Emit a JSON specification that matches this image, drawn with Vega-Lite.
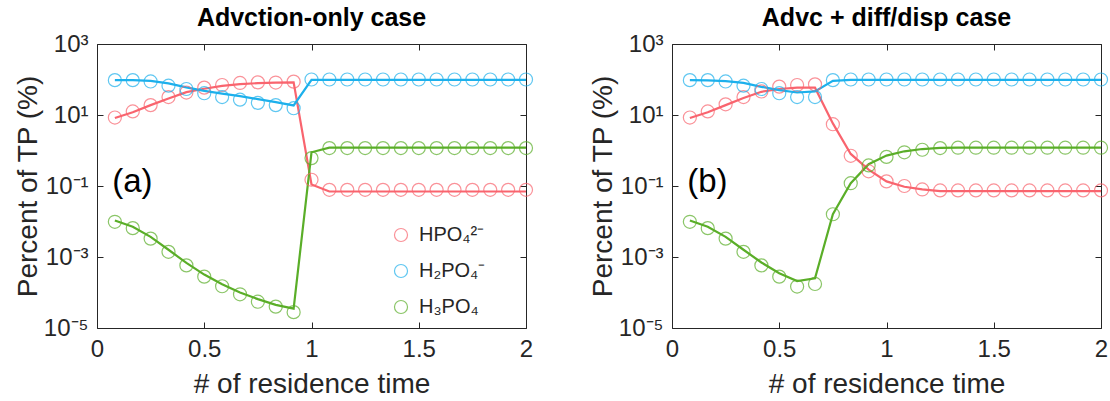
{
  "$schema": "https://vega.github.io/schema/vega-lite/v6.json",
  "background": "white",
  "padding": {"left": 13, "top": 5, "right": 0, "bottom": 3},
  "datasets": {
    "a": [
      {"s":"HPO₄²⁻","x":0.0833,"m":8.2,"o":8.5},
      {"s":"HPO₄²⁻","x":0.1667,"m":12,"o":12.6},
      {"s":"HPO₄²⁻","x":0.25,"m":19,"o":19},
      {"s":"HPO₄²⁻","x":0.3333,"m":29,"o":32},
      {"s":"HPO₄²⁻","x":0.4167,"m":44,"o":43},
      {"s":"HPO₄²⁻","x":0.5,"m":55,"o":59},
      {"s":"HPO₄²⁻","x":0.5833,"m":66,"o":70},
      {"s":"HPO₄²⁻","x":0.6667,"m":74,"o":80},
      {"s":"HPO₄²⁻","x":0.75,"m":79,"o":83},
      {"s":"HPO₄²⁻","x":0.8333,"m":82,"o":82},
      {"s":"HPO₄²⁻","x":0.9167,"m":83,"o":87},
      {"s":"HPO₄²⁻","x":1.0,"m":0.11,"o":0.15},
      {"s":"HPO₄²⁻","x":1.0833,"m":0.07,"o":0.078},
      {"s":"HPO₄²⁻","x":1.1667,"m":0.07,"o":0.078},
      {"s":"HPO₄²⁻","x":1.25,"m":0.07,"o":0.078},
      {"s":"HPO₄²⁻","x":1.3333,"m":0.07,"o":0.078},
      {"s":"HPO₄²⁻","x":1.4167,"m":0.07,"o":0.078},
      {"s":"HPO₄²⁻","x":1.5,"m":0.07,"o":0.078},
      {"s":"HPO₄²⁻","x":1.5833,"m":0.07,"o":0.078},
      {"s":"HPO₄²⁻","x":1.6667,"m":0.07,"o":0.078},
      {"s":"HPO₄²⁻","x":1.75,"m":0.07,"o":0.078},
      {"s":"HPO₄²⁻","x":1.8333,"m":0.07,"o":0.078},
      {"s":"HPO₄²⁻","x":1.9167,"m":0.07,"o":0.078},
      {"s":"HPO₄²⁻","x":2.0,"m":0.07,"o":0.078},
      {"s":"H₂PO₄⁻","x":0.0833,"m":96,"o":96},
      {"s":"H₂PO₄⁻","x":0.1667,"m":96,"o":96},
      {"s":"H₂PO₄⁻","x":0.25,"m":92,"o":88},
      {"s":"H₂PO₄⁻","x":0.3333,"m":78,"o":67},
      {"s":"H₂PO₄⁻","x":0.4167,"m":60,"o":54},
      {"s":"H₂PO₄⁻","x":0.5,"m":48,"o":41},
      {"s":"H₂PO₄⁻","x":0.5833,"m":40,"o":32},
      {"s":"H₂PO₄⁻","x":0.6667,"m":34,"o":27},
      {"s":"H₂PO₄⁻","x":0.75,"m":28,"o":22},
      {"s":"H₂PO₄⁻","x":0.8333,"m":23,"o":19},
      {"s":"H₂PO₄⁻","x":0.9167,"m":18.6,"o":15.5},
      {"s":"H₂PO₄⁻","x":1.0,"m":98,"o":100},
      {"s":"H₂PO₄⁻","x":1.0833,"m":98,"o":100},
      {"s":"H₂PO₄⁻","x":1.1667,"m":98,"o":100},
      {"s":"H₂PO₄⁻","x":1.25,"m":98,"o":100},
      {"s":"H₂PO₄⁻","x":1.3333,"m":98,"o":100},
      {"s":"H₂PO₄⁻","x":1.4167,"m":98,"o":100},
      {"s":"H₂PO₄⁻","x":1.5,"m":98,"o":100},
      {"s":"H₂PO₄⁻","x":1.5833,"m":98,"o":100},
      {"s":"H₂PO₄⁻","x":1.6667,"m":98,"o":100},
      {"s":"H₂PO₄⁻","x":1.75,"m":98,"o":100},
      {"s":"H₂PO₄⁻","x":1.8333,"m":98,"o":100},
      {"s":"H₂PO₄⁻","x":1.9167,"m":98,"o":100},
      {"s":"H₂PO₄⁻","x":2.0,"m":98,"o":100},
      {"s":"H₃PO₄","x":0.0833,"m":0.0107,"o":0.0098},
      {"s":"H₃PO₄","x":0.1667,"m":0.0071,"o":0.0065},
      {"s":"H₃PO₄","x":0.25,"m":0.0037,"o":0.0033},
      {"s":"H₃PO₄","x":0.3333,"m":0.0016,"o":0.0014},
      {"s":"H₃PO₄","x":0.4167,"m":0.00068,"o":0.00058},
      {"s":"H₃PO₄","x":0.5,"m":0.00032,"o":0.00028},
      {"s":"H₃PO₄","x":0.5833,"m":0.00017,"o":0.00015},
      {"s":"H₃PO₄","x":0.6667,"m":0.0001,"o":0.000089},
      {"s":"H₃PO₄","x":0.75,"m":0.000065,"o":0.000055},
      {"s":"H₃PO₄","x":0.8333,"m":0.000045,"o":0.00004},
      {"s":"H₃PO₄","x":0.9167,"m":0.000035,"o":0.000028},
      {"s":"H₃PO₄","x":1.0,"m":0.89,"o":0.61},
      {"s":"H₃PO₄","x":1.0833,"m":1.2,"o":1.17},
      {"s":"H₃PO₄","x":1.1667,"m":1.2,"o":1.17},
      {"s":"H₃PO₄","x":1.25,"m":1.2,"o":1.17},
      {"s":"H₃PO₄","x":1.3333,"m":1.2,"o":1.17},
      {"s":"H₃PO₄","x":1.4167,"m":1.2,"o":1.17},
      {"s":"H₃PO₄","x":1.5,"m":1.2,"o":1.17},
      {"s":"H₃PO₄","x":1.5833,"m":1.2,"o":1.17},
      {"s":"H₃PO₄","x":1.6667,"m":1.2,"o":1.17},
      {"s":"H₃PO₄","x":1.75,"m":1.2,"o":1.17},
      {"s":"H₃PO₄","x":1.8333,"m":1.2,"o":1.17},
      {"s":"H₃PO₄","x":1.9167,"m":1.2,"o":1.17},
      {"s":"H₃PO₄","x":2.0,"m":1.2,"o":1.17}
    ],
    "b": [
      {"s":"HPO₄²⁻","x":0.0833,"m":8.2,"o":8.5},
      {"s":"HPO₄²⁻","x":0.1667,"m":12,"o":12.6},
      {"s":"HPO₄²⁻","x":0.25,"m":19,"o":20},
      {"s":"HPO₄²⁻","x":0.3333,"m":30,"o":32},
      {"s":"HPO₄²⁻","x":0.4167,"m":45,"o":46},
      {"s":"HPO₄²⁻","x":0.5,"m":54,"o":63},
      {"s":"HPO₄²⁻","x":0.5833,"m":59,"o":70},
      {"s":"HPO₄²⁻","x":0.6667,"m":59,"o":73},
      {"s":"HPO₄²⁻","x":0.75,"m":5.8,"o":5.5},
      {"s":"HPO₄²⁻","x":0.8333,"m":0.8,"o":0.71},
      {"s":"HPO₄²⁻","x":0.9167,"m":0.29,"o":0.26},
      {"s":"HPO₄²⁻","x":1.0,"m":0.135,"o":0.135},
      {"s":"HPO₄²⁻","x":1.0833,"m":0.095,"o":0.1},
      {"s":"HPO₄²⁻","x":1.1667,"m":0.08,"o":0.08},
      {"s":"HPO₄²⁻","x":1.25,"m":0.072,"o":0.075},
      {"s":"HPO₄²⁻","x":1.3333,"m":0.072,"o":0.075},
      {"s":"HPO₄²⁻","x":1.4167,"m":0.072,"o":0.075},
      {"s":"HPO₄²⁻","x":1.5,"m":0.072,"o":0.075},
      {"s":"HPO₄²⁻","x":1.5833,"m":0.072,"o":0.075},
      {"s":"HPO₄²⁻","x":1.6667,"m":0.072,"o":0.075},
      {"s":"HPO₄²⁻","x":1.75,"m":0.072,"o":0.075},
      {"s":"HPO₄²⁻","x":1.8333,"m":0.072,"o":0.075},
      {"s":"HPO₄²⁻","x":1.9167,"m":0.072,"o":0.075},
      {"s":"HPO₄²⁻","x":2.0,"m":0.072,"o":0.075},
      {"s":"H₂PO₄⁻","x":0.0833,"m":96,"o":96},
      {"s":"H₂PO₄⁻","x":0.1667,"m":95,"o":96},
      {"s":"H₂PO₄⁻","x":0.25,"m":90,"o":88},
      {"s":"H₂PO₄⁻","x":0.3333,"m":80,"o":67},
      {"s":"H₂PO₄⁻","x":0.4167,"m":62,"o":54},
      {"s":"H₂PO₄⁻","x":0.5,"m":50,"o":41},
      {"s":"H₂PO₄⁻","x":0.5833,"m":43,"o":32},
      {"s":"H₂PO₄⁻","x":0.6667,"m":46,"o":32},
      {"s":"H₂PO₄⁻","x":0.75,"m":92,"o":96},
      {"s":"H₂PO₄⁻","x":0.8333,"m":98,"o":100},
      {"s":"H₂PO₄⁻","x":0.9167,"m":98,"o":100},
      {"s":"H₂PO₄⁻","x":1.0,"m":98,"o":100},
      {"s":"H₂PO₄⁻","x":1.0833,"m":98,"o":100},
      {"s":"H₂PO₄⁻","x":1.1667,"m":98,"o":100},
      {"s":"H₂PO₄⁻","x":1.25,"m":98,"o":100},
      {"s":"H₂PO₄⁻","x":1.3333,"m":98,"o":100},
      {"s":"H₂PO₄⁻","x":1.4167,"m":98,"o":100},
      {"s":"H₂PO₄⁻","x":1.5,"m":98,"o":100},
      {"s":"H₂PO₄⁻","x":1.5833,"m":98,"o":100},
      {"s":"H₂PO₄⁻","x":1.6667,"m":98,"o":100},
      {"s":"H₂PO₄⁻","x":1.75,"m":98,"o":100},
      {"s":"H₂PO₄⁻","x":1.8333,"m":98,"o":100},
      {"s":"H₂PO₄⁻","x":1.9167,"m":98,"o":100},
      {"s":"H₂PO₄⁻","x":2.0,"m":98,"o":100},
      {"s":"H₃PO₄","x":0.0833,"m":0.0107,"o":0.0098},
      {"s":"H₃PO₄","x":0.1667,"m":0.0071,"o":0.0065},
      {"s":"H₃PO₄","x":0.25,"m":0.0037,"o":0.0033},
      {"s":"H₃PO₄","x":0.3333,"m":0.0016,"o":0.0014},
      {"s":"H₃PO₄","x":0.4167,"m":0.0007,"o":0.00058},
      {"s":"H₃PO₄","x":0.5,"m":0.00035,"o":0.00028},
      {"s":"H₃PO₄","x":0.5833,"m":0.00021,"o":0.000147},
      {"s":"H₃PO₄","x":0.6667,"m":0.00025,"o":0.000174},
      {"s":"H₃PO₄","x":0.75,"m":0.016,"o":0.016},
      {"s":"H₃PO₄","x":0.8333,"m":0.12,"o":0.12},
      {"s":"H₃PO₄","x":0.9167,"m":0.41,"o":0.38},
      {"s":"H₃PO₄","x":1.0,"m":0.72,"o":0.66},
      {"s":"H₃PO₄","x":1.0833,"m":0.95,"o":0.89},
      {"s":"H₃PO₄","x":1.1667,"m":1.1,"o":1.05},
      {"s":"H₃PO₄","x":1.25,"m":1.18,"o":1.17},
      {"s":"H₃PO₄","x":1.3333,"m":1.2,"o":1.2},
      {"s":"H₃PO₄","x":1.4167,"m":1.2,"o":1.2},
      {"s":"H₃PO₄","x":1.5,"m":1.2,"o":1.2},
      {"s":"H₃PO₄","x":1.5833,"m":1.2,"o":1.2},
      {"s":"H₃PO₄","x":1.6667,"m":1.2,"o":1.2},
      {"s":"H₃PO₄","x":1.75,"m":1.2,"o":1.2},
      {"s":"H₃PO₄","x":1.8333,"m":1.2,"o":1.2},
      {"s":"H₃PO₄","x":1.9167,"m":1.2,"o":1.2},
      {"s":"H₃PO₄","x":2.0,"m":1.2,"o":1.2}
    ]
  },
  "hconcat": [
    {
      "width": 429,
      "height": 284,
      "title": {"text": "Advction-only case"},
      "data": {"name": "a"},
      "layer": [
        {
          "mark": {"type": "line", "strokeWidth": 2.2},
          "encoding": {
            "x": {"field": "x", "type": "quantitative", "scale": {"domain": [0, 2], "nice": false},
                  "axis": {"orient": "bottom", "title": "# of residence time", "values": [0, 0.5, 1, 1.5, 2], "format": "~g", "labelFlush": false, "labelPadding": 15, "titlePadding": 9}},
            "y": {"field": "m", "type": "quantitative", "scale": {"type": "log", "domain": [0.00001, 1000], "nice": false},
                  "axis": {"orient": "left", "title": "Percent of TP (%)", "values": [0.00001, 0.001, 0.1, 10, 1000], "titlePadding": 1, "labelPadding": 15,
                           "labelExpr": "datum.value >= 999 ? '10³' : datum.value >= 9 ? '10¹' : datum.value >= 0.09 ? '10⁻¹' : datum.value >= 0.0009 ? '10⁻³' : '10⁻⁵'"}},
            "color": {"field": "s", "type": "nominal",
                      "scale": {"domain": ["HPO₄²⁻", "H₂PO₄⁻", "H₃PO₄"], "range": ["#F9646E", "#1CB0EC", "#5AAE28"]},
                      "legend": {"orient": "none", "legendX": 294, "legendY": 181, "title": null}}
          }
        },
        {
          "mark": {"type": "point", "shape": "circle", "filled": false, "size": 170, "strokeWidth": 1.2},
          "encoding": {
            "x": {"field": "x", "type": "quantitative", "axis": {"orient": "top", "labels": false, "title": null, "values": [0, 0.5, 1, 1.5, 2]}},
            "y": {"field": "o", "type": "quantitative", "axis": {"orient": "right", "labels": false, "title": null, "values": [0.00001, 0.001, 0.1, 10, 1000]}},
            "color": {"field": "s", "type": "nominal"}
          }
        },
        {
          "data": {"values": [{}]},
          "mark": {"type": "text", "fontSize": 33, "align": "center", "baseline": "middle", "color": "#000"},
          "encoding": {
            "x": {"datum": 0.165, "type": "quantitative", "axis": null},
            "y": {"datum": 0.13, "type": "quantitative", "axis": null},
            "text": {"value": "(a)"}
          }
        }
      ],
      "resolve": {"axis": {"x": "independent", "y": "independent"}}
    },
    {
      "width": 429,
      "height": 284,
      "title": {"text": "Advc + diff/disp case"},
      "data": {"name": "b"},
      "layer": [
        {
          "mark": {"type": "line", "strokeWidth": 2.2},
          "encoding": {
            "x": {"field": "x", "type": "quantitative", "scale": {"domain": [0, 2], "nice": false},
                  "axis": {"orient": "bottom", "title": "# of residence time", "values": [0, 0.5, 1, 1.5, 2], "format": "~g", "labelFlush": false, "labelPadding": 15, "titlePadding": 9}},
            "y": {"field": "m", "type": "quantitative", "scale": {"type": "log", "domain": [0.00001, 1000], "nice": false},
                  "axis": {"orient": "left", "title": "Percent of TP (%)", "values": [0.00001, 0.001, 0.1, 10, 1000], "titlePadding": 1, "labelPadding": 15,
                           "labelExpr": "datum.value >= 999 ? '10³' : datum.value >= 9 ? '10¹' : datum.value >= 0.09 ? '10⁻¹' : datum.value >= 0.0009 ? '10⁻³' : '10⁻⁵'"}},
            "color": {"field": "s", "type": "nominal"}
          }
        },
        {
          "mark": {"type": "point", "shape": "circle", "filled": false, "size": 170, "strokeWidth": 1.2},
          "encoding": {
            "x": {"field": "x", "type": "quantitative", "axis": {"orient": "top", "labels": false, "title": null, "values": [0, 0.5, 1, 1.5, 2]}},
            "y": {"field": "o", "type": "quantitative", "axis": {"orient": "right", "labels": false, "title": null, "values": [0.00001, 0.001, 0.1, 10, 1000]}},
            "color": {"field": "s", "type": "nominal"}
          }
        },
        {
          "data": {"values": [{}]},
          "mark": {"type": "text", "fontSize": 33, "align": "center", "baseline": "middle", "color": "#000"},
          "encoding": {
            "x": {"datum": 0.165, "type": "quantitative", "axis": null},
            "y": {"datum": 0.13, "type": "quantitative", "axis": null},
            "text": {"value": "(b)"}
          }
        }
      ],
      "resolve": {"axis": {"x": "independent", "y": "independent"}}
    }
  ],
  "spacing": 52,
  "config": {
    "font": "Liberation Sans",
    "view": {"stroke": "#262626", "strokeWidth": 1},
    "axis": {"domain": false, "grid": false, "tickColor": "#262626", "tickSize": -6, "tickWidth": 1,
             "labelFontSize": 24, "labelColor": "#262626",
             "titleFontSize": 28, "titleFontWeight": "normal", "titleColor": "#262626"},
    "title": {"fontSize": 25, "fontWeight": "bold", "color": "#000", "offset": 1},
    "legend": {"symbolType": "circle", "symbolSize": 170, "symbolStrokeWidth": 1.2, "labelFontSize": 20,
               "labelColor": "#262626", "rowPadding": 16, "labelOffset": 8}
  }
}
